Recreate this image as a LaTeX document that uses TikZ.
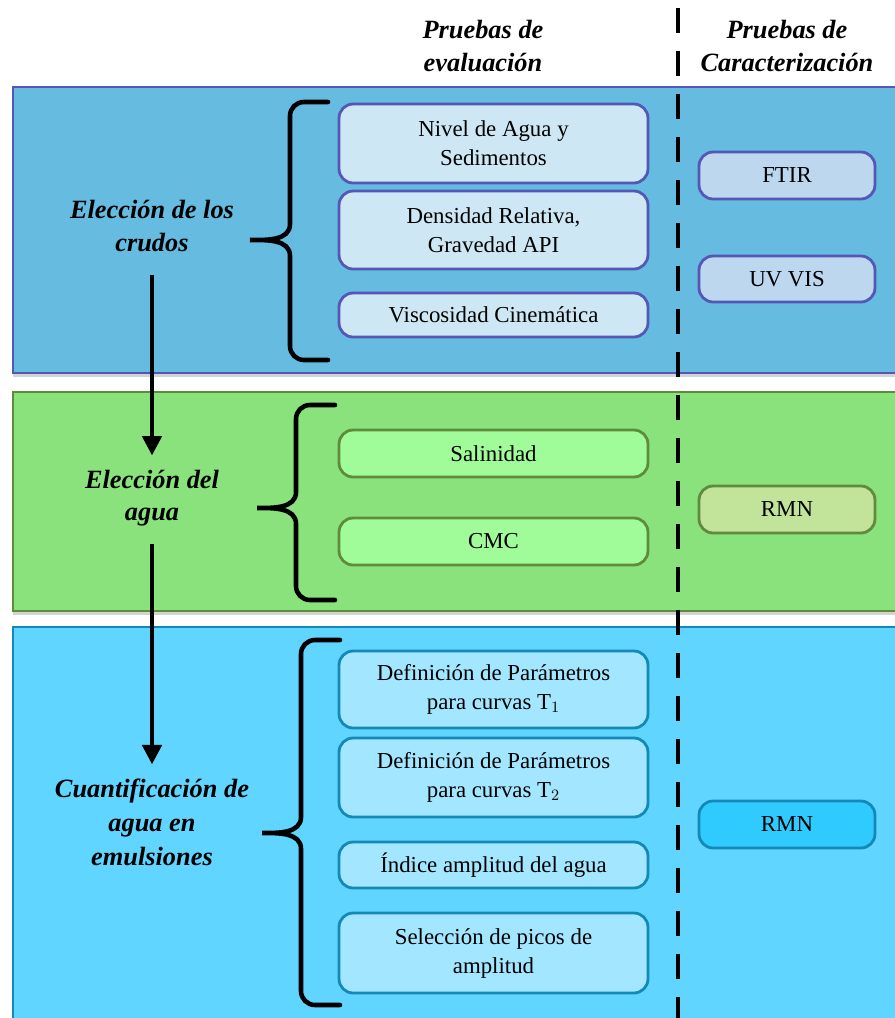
\documentclass[tikz,border=0pt]{standalone}
\usepackage{fontspec}
\setmainfont{Liberation Serif}
\usetikzlibrary{arrows.meta,shadows}

\definecolor{bandaAzul}{HTML}{66BCE0}
\definecolor{bordeAzul}{HTML}{5457B6}
\definecolor{cajaAzul}{HTML}{CDE8F4}
\definecolor{caracAzul}{HTML}{BDD7EE}
\definecolor{bandaVerde}{HTML}{89E27C}
\definecolor{bordeVerde}{HTML}{5F8B3A}
\definecolor{cajaVerde}{HTML}{A0FC98}
\definecolor{caracVerde}{HTML}{C2E39A}
\definecolor{bandaCian}{HTML}{5FD5FF}
\definecolor{bordeCian}{HTML}{1489B9}
\definecolor{cajaCian}{HTML}{A2E7FF}
\definecolor{caracCian}{HTML}{2FCBFF}

\begin{document}
\begin{tikzpicture}[x=0.02cm,y=-0.02cm,
  banda/.style={line width=1.6pt,drop shadow={shadow xshift=0pt,shadow yshift=-2.5pt,opacity=.35}},
  prueba/.style={draw,rounded corners=8pt,line width=1.6pt,align=center,minimum width=6.18cm,
    font=\fontsize{13}{16.5}\selectfont},
  carac/.style={prueba,minimum width=3.52cm,minimum height=0.94cm},
  etapa/.style={align=center,inner sep=0pt,font=\fontsize{15}{18.5}\selectfont\bfseries\itshape},
  flecha/.style={line width=2.2pt,-{Triangle[width=11pt,length=11pt]}},
  llave/.style={line width=2.6pt,line cap=round}]
  \useasboundingbox (0,0) rectangle (895,1018);

  % bandas
  \draw[banda,draw=bordeAzul,fill=bandaAzul] (13,87) rectangle (910,373);
  \draw[banda,draw=bordeVerde,fill=bandaVerde] (13,392) rectangle (910,611);
  \draw[banda,draw=bordeCian,fill=bandaCian] (13,627) rectangle (910,1040);

  % titulos de columnas
  \node[etapa] (evalTit) at (483,46) {Pruebas de\\evaluación};
  \node[etapa] (caracTit) at (787,46) {Pruebas de\\Caracterización};
  \draw[line width=2.8pt,dash pattern=on 0.5cm off 0.36cm] (678,8) -- (678,1018);

  % etapas
  \node[etapa] (crudos) at (152,226) {Elección de los\\crudos};
  \node[etapa] (agua) at (152,498) {Elección del\\agua};
  \node[etapa,font=\fontsize{15}{19.3}\selectfont\bfseries\itshape] (cuant) at (152,822) {Cuantificación de\\agua en\\emulsiones};
  \draw[flecha,shorten <=13pt,shorten >=8pt] (crudos) -- (agua);
  \draw[flecha,shorten <=10pt,shorten >=8pt] (agua) -- (cuant);

  % llaves
  \foreach \xt/\xs/\xe/\yt/\yp/\yb in {250/290/328/102/240/360,257/296/335/405/508/600,262/301/340/640/833/1005}
    \draw[llave] (\xe,\yt) -- (\xs+14,\yt) to[out=180,in=90] (\xs,\yt+14) -- (\xs,\yp-16)
      to[out=-90,in=0] (\xt,\yp) to[out=0,in=90] (\xs,\yp+16) -- (\xs,\yb-14)
      to[out=-90,in=180] (\xs+14,\yb) -- (\xe,\yb);

  % pruebas de evaluacion: crudos
  \node[prueba,draw=bordeAzul,fill=cajaAzul,minimum height=1.58cm] (nivel) at (493.5,143.5) {Nivel de Agua y\\Sedimentos};
  \node[prueba,draw=bordeAzul,fill=cajaAzul,minimum height=1.56cm] (densidad) at (493.5,230) {Densidad Relativa,\\Gravedad API};
  \node[prueba,draw=bordeAzul,fill=cajaAzul,minimum height=0.88cm] (viscosidad) at (493.5,315) {Viscosidad Cinemática};
  \node[carac,draw=bordeAzul,fill=caracAzul] (ftir) at (787,175.5) {FTIR};
  \node[carac,draw=bordeAzul,fill=caracAzul,minimum height=0.92cm] (uvvis) at (787,279) {UV VIS};

  % pruebas de evaluacion: agua
  \node[prueba,draw=bordeVerde,fill=cajaVerde,minimum height=0.94cm] (salinidad) at (493.5,453.5) {Salinidad};
  \node[prueba,draw=bordeVerde,fill=cajaVerde,minimum height=0.94cm] (cmc) at (493.5,541.5) {CMC};
  \node[carac,draw=bordeVerde,fill=caracVerde] (rmnAgua) at (787,509.5) {RMN};

  % pruebas de evaluacion: emulsiones
  \node[prueba,draw=bordeCian,fill=cajaCian,minimum height=1.54cm] (tuno) at (493.5,689.5) {Definición de Parámetros\\para curvas T$_1$};
  \node[prueba,draw=bordeCian,fill=cajaCian,minimum height=1.58cm] (tdos) at (493.5,777.5) {Definición de Parámetros\\para curvas T$_2$};
  \node[prueba,draw=bordeCian,fill=cajaCian,minimum height=0.92cm] (indice) at (493.5,865) {Índice amplitud del agua};
  \node[prueba,draw=bordeCian,fill=cajaCian,minimum height=1.6cm] (seleccion) at (493.5,953) {Selección de picos de\\amplitud};
  \node[carac,draw=bordeCian,fill=caracCian] (rmnEmul) at (787,824.5) {RMN};
\end{tikzpicture}
\end{document}
